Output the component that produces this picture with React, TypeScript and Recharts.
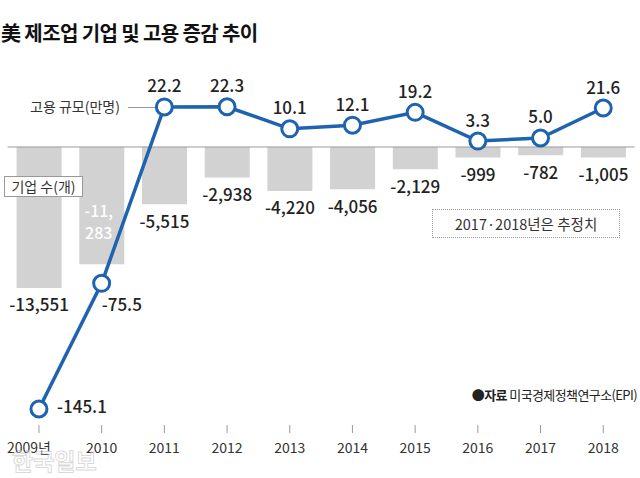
import React from "react";
import {
  ComposedChart,
  Bar,
  Line,
  XAxis,
  YAxis,
  ReferenceLine,
  LabelList,
} from "recharts";

const years = ["2009", "2010", "2011", "2012", "2013", "2014", "2015", "2016", "2017", "2018"];
const yearLabels = ["2009년", "2010", "2011", "2012", "2013", "2014", "2015", "2016", "2017", "2018"];
// 기업 수 증감(개)
const firms = [-13551, -11283, -5515, -2938, -4220, -4056, -2129, -999, -782, -1005];
// 고용 규모 증감(만명)
const jobs = [-145.1, -75.5, 22.2, 22.3, 10.1, 12.1, 19.2, 3.3, 5.0, 21.6];

const FONT = "'Noto Sans CJK KR', 'Noto Sans', sans-serif";
const BLUE = "#1f63b0";
const BAR_GRAY = "#d2d2d2";
const TEXT = "#222";

const chartData = years.map((y, i) => ({
  year: y,
  label: yearLabels[i],
  firms: firms[i],
  jobs: jobs[i],
}));

const YearTick = (props: any) => {
  const { x, y, payload, index } = props;
  const label = yearLabels[index] ?? payload.value;
  return (
    <g>
      <line x1={x} x2={x} y1={y + 5} y2={y + 13} stroke="#999" strokeWidth={1} />
      <text
        x={index === 0 ? x - 10 : x}
        y={y + 27}
        textAnchor="middle"
        dominantBaseline="central"
        fontFamily={FONT}
        fontSize={14}
        fill="#333"
      >
        {label}
      </text>
    </g>
  );
};

const FirmLabel = (props: any) => {
  const { x, y, width, height, value, index } = props;
  const cx = x + width / 2;
  const bottom = Math.max(y, y + height);
  const txt = Number(value).toLocaleString("en-US");
  if (index === 1) {
    // 막대 안쪽에 두 줄로
    const [a, b] = txt.split(",");
    return (
      <g>
        <text x={cx - 3} y={bottom - 54} textAnchor="middle" dominantBaseline="central" fontFamily={FONT} fontSize={16} fontWeight={500} fill="#fff">
          {a + ","}
        </text>
        <text x={cx - 3} y={bottom - 32} textAnchor="middle" dominantBaseline="central" fontFamily={FONT} fontSize={16} fontWeight={500} fill="#fff">
          {b}
        </text>
      </g>
    );
  }
  return (
    <text
      x={cx}
      y={bottom + 16}
      textAnchor="middle"
      dominantBaseline="central"
      fontFamily={FONT}
      fontSize={17}
      fontWeight={500}
      fill={TEXT}
    >
      {txt}
    </text>
  );
};

const JobLabel = (props: any) => {
  const { x, y, value, index } = props;
  const txt = Number(value).toFixed(1);
  let tx = x;
  let ty = y - 22;
  let anchor: "middle" | "start" = "middle";
  if (index === 0) {
    tx = x + 18;
    ty = y - 3;
    anchor = "start";
  } else if (index === 1) {
    tx = x;
    ty = y + 20;
    anchor = "start";
  }
  return (
    <text
      x={tx}
      y={ty}
      textAnchor={anchor}
      dominantBaseline="central"
      fontFamily={FONT}
      fontSize={17}
      fontWeight={500}
      fill={TEXT}
    >
      {txt}
    </text>
  );
};

export default function App() {
  return (
    <div
      style={{
        position: "absolute",
        left: 0,
        top: 0,
        width: 640,
        height: 478,
        background: "#fff",
        fontFamily: FONT,
        overflow: "hidden",
      }}
    >
      <div
        style={{
          position: "absolute",
          left: 1,
          top: 19,
          fontSize: 20,
          lineHeight: "28px",
          fontWeight: 700,
          color: "#111",
          letterSpacing: -0.6,
          whiteSpace: "nowrap",
        }}
      >
        美 제조업 기업 및 고용 증감 추이
      </div>

      <ComposedChart
        width={640}
        height={478}
        data={chartData}
        margin={{ top: 60, right: 5.4, bottom: 28, left: 7.6 }}
        style={{ position: "absolute", left: 0, top: 0 }}
      >
        <XAxis
          dataKey="year"
          axisLine={false}
          tickLine={false}
          tickSize={0}
          tickMargin={0}
          interval={0}
          height={30}
          tick={<YearTick />}
        />
        <YAxis yAxisId="firms" hide width={0} domain={[-26250, 8365]} allowDataOverflow />
        <YAxis yAxisId="jobs" hide width={0} orientation="right" domain={[-151.2, 48.2]} allowDataOverflow />
        <ReferenceLine yAxisId="firms" y={0} stroke="#9a9a9a" strokeWidth={1} />
        <Bar yAxisId="firms" dataKey="firms" fill={BAR_GRAY} barSize={45} isAnimationActive={false}>
          <LabelList dataKey="firms" content={<FirmLabel />} />
        </Bar>
        <Line
          yAxisId="jobs"
          dataKey="jobs"
          type="linear"
          stroke={BLUE}
          strokeWidth={3.5}
          dot={{ r: 8, fill: "#fff", stroke: BLUE, strokeWidth: 3 }}
          activeDot={false}
          isAnimationActive={false}
        >
          <LabelList dataKey="jobs" content={<JobLabel />} />
        </Line>
      </ComposedChart>

      {/* 고용 규모 라벨 + 지시선 */}
      <div
        style={{
          position: "absolute",
          left: 30,
          top: 96,
          fontSize: 14,
          lineHeight: "20px",
          color: "#333",
          whiteSpace: "nowrap",
        }}
      >
        고용 규모(만명)
      </div>
      <div
        style={{
          position: "absolute",
          left: 128,
          top: 107,
          width: 27,
          height: 1,
          background: "#999",
        }}
      />

      {/* 기업 수 라벨 */}
      <div
        style={{
          position: "absolute",
          left: 4,
          top: 176,
          width: 77,
          height: 19,
          border: "1px solid #999",
          background: "#fff",
          fontSize: 14,
          lineHeight: "19px",
          color: "#333",
          textAlign: "center",
          whiteSpace: "nowrap",
        }}
      >
        기업 수(개)
      </div>

      {/* 추정치 안내 */}
      <div
        style={{
          position: "absolute",
          left: 432,
          top: 209,
          width: 186,
          height: 27,
          border: "1px dotted #999",
          fontSize: 14.5,
          lineHeight: "27px",
          color: "#333",
          textAlign: "center",
          whiteSpace: "nowrap",
        }}
      >
        2017·2018년은 추정치
      </div>

      {/* 출처 */}
      <div
        style={{
          position: "absolute",
          right: 3,
          top: 386,
          fontSize: 13,
          lineHeight: "18px",
          color: "#222",
          letterSpacing: -0.6,
          whiteSpace: "nowrap",
        }}
      >
        <span style={{ fontWeight: 700 }}>●자료</span> 미국경제정책연구소(EPI)
      </div>

      {/* 워터마크 */}
      <div
        style={{
          position: "absolute",
          left: 12,
          top: 447,
          fontSize: 23,
          lineHeight: "26px",
          fontWeight: 700,
          color: "rgba(255,255,255,0.4)",
          WebkitTextStroke: "1px rgba(180,180,180,0.5)",
          whiteSpace: "nowrap",
        }}
      >
        한국일보
      </div>
    </div>
  );
}
